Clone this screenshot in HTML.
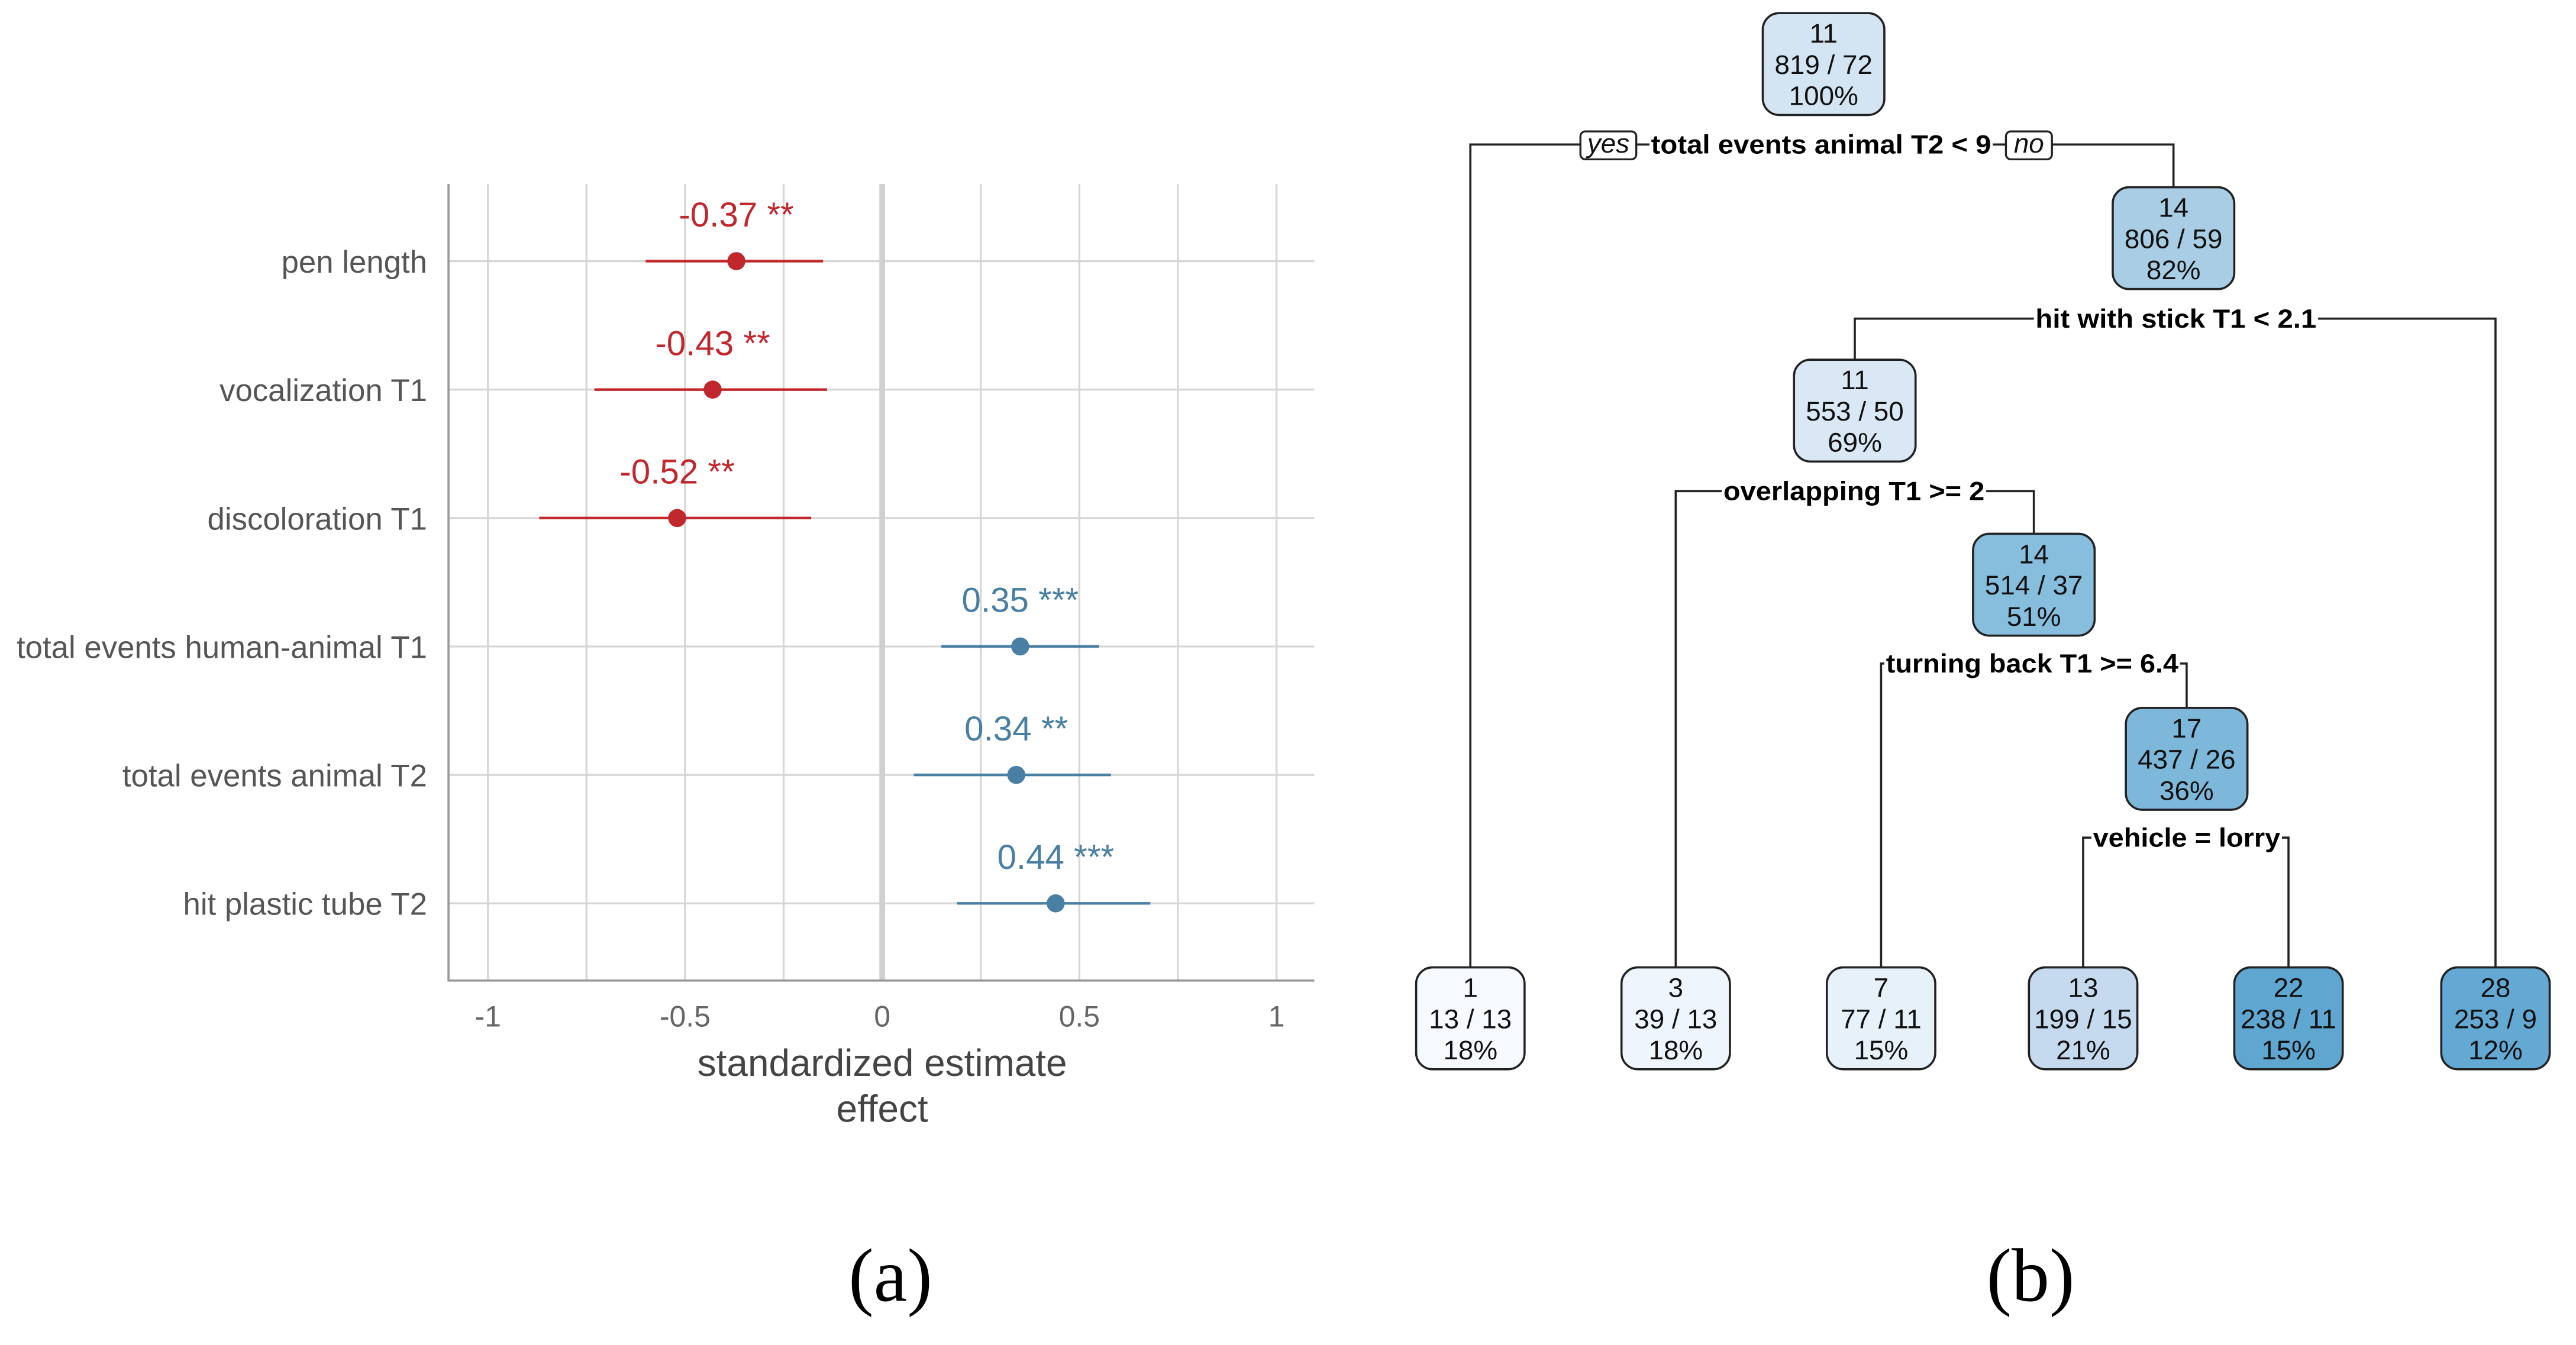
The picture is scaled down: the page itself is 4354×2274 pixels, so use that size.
<!DOCTYPE html>
<html><head><meta charset="utf-8"><style>
html,body{margin:0;padding:0;background:#fff;}
svg{display:block;}
.yl{font-family:"Liberation Sans Narrow","Liberation Sans",sans-serif;fill:#555;font-size:19px;}
.tk{font-family:"Liberation Sans Narrow","Liberation Sans",sans-serif;fill:#666;font-size:18px;}
.vl{font-family:"Liberation Sans Narrow","Liberation Sans",sans-serif;font-size:21px;}
.tt{font-family:"Liberation Sans Narrow","Liberation Sans",sans-serif;fill:#444;font-size:23px;}
.nd{font-family:"Liberation Sans Narrow","Liberation Sans",sans-serif;fill:#111;font-size:16.5px;}
.sp{font-family:"Liberation Sans Narrow","Liberation Sans",sans-serif;fill:#000;font-size:16px;font-weight:bold;}
.cap{font-family:"Liberation Serif",serif;fill:#000;font-size:46px;}
</style></head><body>
<svg id="fig" width="4354" height="2274" viewBox="0 0 1568 818.9" preserveAspectRatio="none" xmlns="http://www.w3.org/2000/svg">
<g id="plotA"></g>
<g id="tree"></g>
<text class="cap" x="542" y="792" text-anchor="middle">(a)</text>
<text class="cap" x="1236" y="792" text-anchor="middle">(b)</text>
</svg>
<script>
const NS="http://www.w3.org/2000/svg";
// ---- forest plot data ----
const terms=["pen length","vocalization T1","discoloration T1","total events human-animal T1","total events animal T2","hit plastic tube T2"];
const estimates=[-0.37,-0.43,-0.52,0.35,0.34,0.44];
const ciLow=[-0.60,-0.73,-0.87,0.15,0.08,0.19];
const ciHigh=[-0.15,-0.14,-0.18,0.55,0.58,0.68];
const stars=["**","**","**","***","**","***"];
const valueLabels=["-0.37","-0.43","-0.52","0.35","0.34","0.44"];
const tickValues=[-1,-0.5,0,0.5,1];
const tickLabels=["-1","-0.5","0","0.5","1"];
const gridValues=[-1,-0.75,-0.5,-0.25,0.25,0.5,0.75,1];

function xs(v){return 537+240*v;}
function ys(i){return 159+78.2*i;}
function mk(tag,attrs,parent,text){const e=document.createElementNS(NS,tag);for(const k in attrs)e.setAttribute(k,attrs[k]);if(text!==undefined)e.textContent=text;parent.appendChild(e);return e;}

const A=document.getElementById('plotA');
gridValues.forEach(v=>{
  const l=mk('line',{x1:xs(v),x2:xs(v),y1:112,y2:597,stroke:'#d6d6d6','stroke-width':1.2},A);
  
  
});
terms.forEach((t,i)=>{
  const l=mk('line',{x1:273,x2:800,y1:ys(i),y2:ys(i),stroke:'#d6d6d6','stroke-width':1.2},A);
  
  
});
const z=mk('line',{x1:xs(0),x2:xs(0),y1:112,y2:597,stroke:'#d0d0d0','stroke-width':3.5},A);


const ax=mk('path',{d:'M273 112 V597 H800',fill:'none',stroke:'#999','stroke-width':1.3},A);


tickValues.forEach((v,i)=>{
  const t=mk('text',{class:'tk',x:xs(v),y:625,'text-anchor':'middle'},A,tickLabels[i]);
  
  
});
terms.forEach((name,i)=>{
  const col=estimates[i]<0?'#c0282e':'#4a7fa4';
  const y=ys(i);
  const lab=mk('text',{class:'yl',x:260,y:y+7,'text-anchor':'end'},A,name);
  
  
  const ci=mk('line',{x1:xs(ciLow[i]),x2:xs(ciHigh[i]),y1:y,y2:y,stroke:col,'stroke-width':1.6},A);
  
  
  const p=mk('circle',{cx:xs(estimates[i]),cy:y,r:5.5,fill:col},A);
  
  
  const v=mk('text',{class:'vl',x:xs(estimates[i]),y:y-21,'text-anchor':'middle',fill:col},A,valueLabels[i]+' '+stars[i]);
  
  
});
const t1=mk('text',{class:'tt',x:537,y:655,'text-anchor':'middle'},A,'standardized estimate');


const t2=mk('text',{class:'tt',x:537,y:683,'text-anchor':'middle'},A,'effect');



// ---- tree data ----
const nodeIds=["root","n14","n11","n14b","n17","l1","l3","l7","l13","l22","l28"];
const nodeCx=[1110,1323,1129,1238,1331,895,1020,1145,1268,1393,1519];
const nodeTop=[8,114,219,325,431,589,589,589,589,589,589];
const nodeVal=["11","14","11","14","17","1","3","7","13","22","28"];
const nodeCounts=["819 / 72","806 / 59","553 / 50","514 / 37","437 / 26","13 / 13","39 / 13","77 / 11","199 / 15","238 / 11","253 / 9"];
const nodePct=["100%","82%","69%","51%","36%","18%","18%","15%","21%","15%","12%"];
const nodeFill=["#d3e4f3","#a8cde5","#dae8f5","#87bddd","#7db8da","#f6faff","#eff5fc","#e7f1fa","#c5daef","#5fa6d1","#63a9d3"];
const T=document.getElementById('tree');
// edges
const edges=[
 'M895 589 V88 H962','M996 88 H1004','M1213 88 H1221','M1249 88 H1323 V114',
 'M1129 219 V194 H1238','M1411 194 H1519 V589',
 'M1020 589 V299 H1048','M1209 299 H1238 V325',
 'M1145 589 V404 H1147','M1327 404 H1331 V431',
 'M1268 589 V510 H1273','M1389 510 H1393 V589'];
edges.forEach(d=>{
  const e=mk('path',{d:d,fill:'none',stroke:'#222','stroke-width':1.3},T);
  
  
});
nodeIds.forEach((id,i)=>{
  const w=(i<5)?74:66, h=62, x=nodeCx[i]-w/2, y=nodeTop[i];
  const g=mk('g',{},T);
  
  
  mk('rect',{x:x,y:y,width:w,height:h,rx:10,fill:nodeFill[i],stroke:'#222','stroke-width':1.3},g);
  mk('text',{class:'nd',x:nodeCx[i],y:y+18,'text-anchor':'middle'},g,nodeVal[i]);
  mk('text',{class:'nd',x:nodeCx[i],y:y+37,'text-anchor':'middle'},g,nodeCounts[i]);
  mk('text',{class:'nd',x:nodeCx[i],y:y+56,'text-anchor':'middle'},g,nodePct[i]);
});
const splits=[["total events animal T2 < 9",1005,1212,88],["hit with stick T1 < 2.1",1239,1410,194],["overlapping T1 >= 2",1049,1208,299],["turning back T1 >= 6.4",1148,1326,404],["vehicle = lorry",1274,1388,510]];
splits.forEach(s=>{
  const t=mk('text',{class:'sp',x:s[1],y:s[3]+5.5,textLength:s[2]-s[1],lengthAdjust:'spacingAndGlyphs'},T,s[0]);
  
  
});
[["yes",962,996],["no",1221,1249]].forEach(b=>{
  const g=mk('g',{},T);
  
  
  mk('rect',{x:b[1],y:80,width:b[2]-b[1],height:17,rx:3,fill:'#fff',stroke:'#222','stroke-width':1.2},g);
  mk('text',{class:'nd',x:(b[1]+b[2])/2,y:93,'text-anchor':'middle','font-style':'italic','font-size':13},g,b[0]);
});
</script>
</body></html>
